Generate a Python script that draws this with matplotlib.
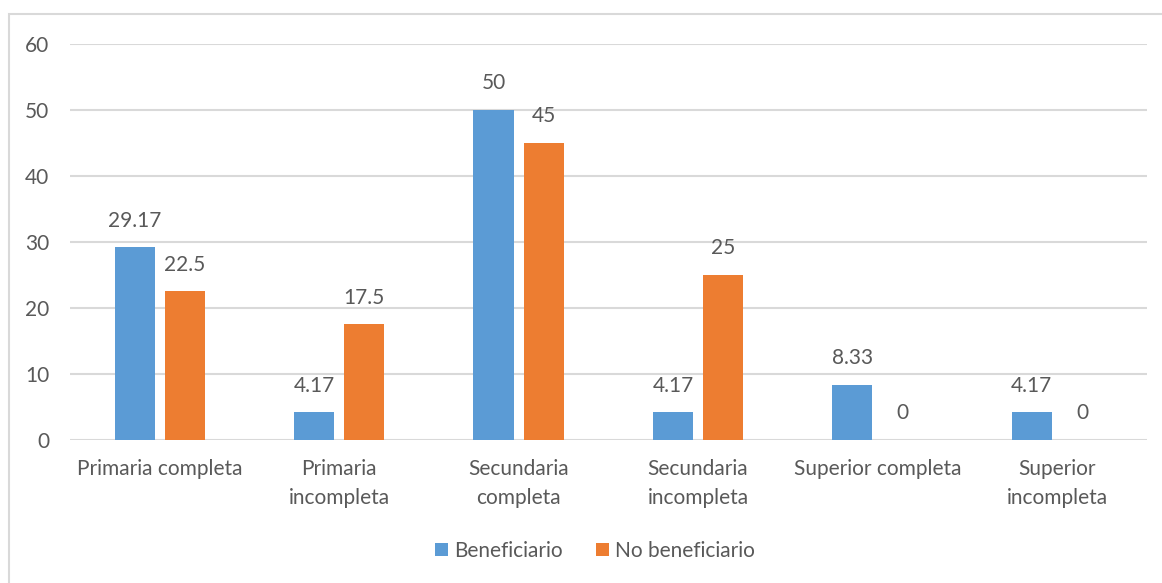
import matplotlib.pyplot as plt
import numpy as np
from matplotlib.patches import Rectangle

plt.rcParams['font.family'] = ['Lato', 'DejaVu Sans']

categories = ['Primaria completa', 'Primaria\nincompleta', 'Secundaria\ncompleta',
              'Secundaria\nincompleta', 'Superior completa', 'Superior\nincompleta']
beneficiario = [29.17, 4.17, 50, 4.17, 8.33, 4.17]
no_beneficiario = [22.5, 17.5, 45, 25, 0, 0]

blue = '#5B9BD5'
orange = '#ED7D31'
grey = '#595959'

fig = plt.figure(figsize=(11.62, 5.83), dpi=100)
W, H = 1162, 583

# chart frame (only left and top edges fall inside the image)
fig.patches.append(Rectangle((9 / W, -0.1), 1.2, (583 - 14) / H + 0.1,
                             transform=fig.transFigure, fill=False,
                             edgecolor='#D9D9D9', linewidth=1.5))

ax = fig.add_axes([70 / W, (H - 439.7) / H, (1146.7 - 70) / W, (439.7 - 43.7) / H])

x = np.arange(len(categories))
w = 0.223
off = 0.14
b1 = ax.bar(x - off, beneficiario, w, color=blue, label='Beneficiario', zorder=3)
b2 = ax.bar(x + off, no_beneficiario, w, color=orange, label='No beneficiario', zorder=3)

for bars, vals in ((b1, beneficiario), (b2, no_beneficiario)):
    for rect, v in zip(bars, vals):
        ax.annotate(f'{v:g}', (rect.get_x() + rect.get_width() / 2, v),
                    xytext=(0, 19), textcoords='offset points',
                    ha='center', va='center', fontsize=15, color=grey)

ax.set_xlim(-0.5, len(categories) - 0.5)
ax.set_ylim(0, 60)
ax.set_yticks(range(0, 61, 10))
ax.grid(axis='y', color='#D9D9D9', linewidth=1.5, zorder=0)
for s in ax.spines.values():
    s.set_visible(False)
ax.tick_params(length=0, labelsize=15, labelcolor=grey)
ax.tick_params(axis='y', pad=15)
ax.tick_params(axis='x', pad=14)
ax.set_xticks(x)
ax.set_xticklabels(categories, linespacing=1.55)

fig.legend(loc='center', bbox_to_anchor=(595 / W, (H - 551) / H), ncol=2,
           frameon=False, fontsize=15, labelcolor=grey, handlelength=0.6,
           handleheight=0.6, handletextpad=0.3, columnspacing=1.6)

fig.savefig('out.png', dpi=100)
